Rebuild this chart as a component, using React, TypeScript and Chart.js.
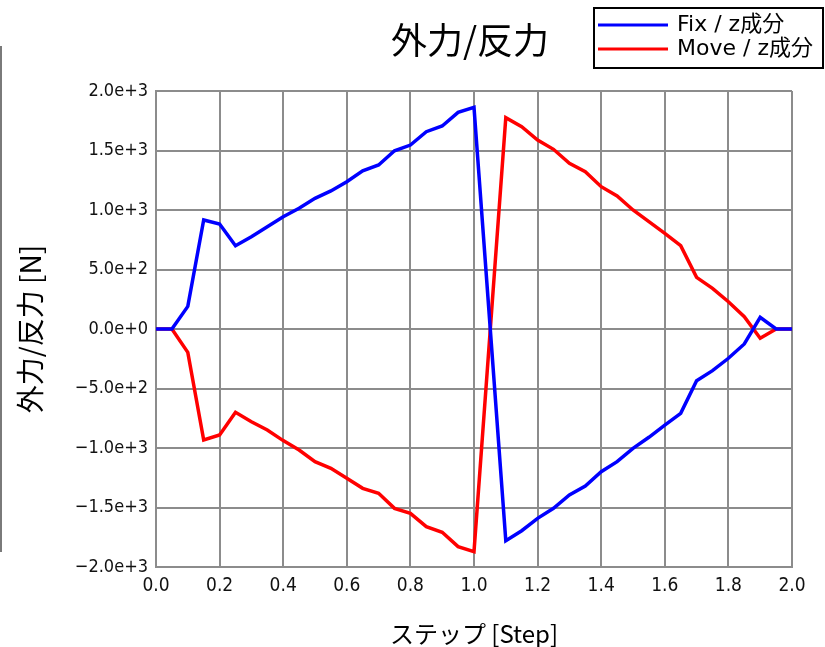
import React, { useEffect, useRef } from "react";
import { Chart, registerables } from "chart.js";

Chart.register(...registerables);

const steps = [
  0, 0.05, 0.1, 0.15, 0.2, 0.25, 0.3, 0.35, 0.4, 0.45, 0.5, 0.55, 0.6, 0.65, 0.7, 0.75, 0.8, 0.85, 0.9, 0.95,
  1.0, 1.05, 1.1, 1.15, 1.2, 1.25, 1.3, 1.35, 1.4, 1.45, 1.5, 1.55, 1.6, 1.65, 1.7, 1.75, 1.8, 1.85, 1.9, 1.95, 2.0,
];

const fixValues = [
  0, 0, 190, 916, 882, 700, 776, 860, 944, 1014, 1098, 1160, 1238, 1330, 1378, 1498, 1546, 1658, 1706, 1821,
  1863, 42, -1779, -1695, -1591, -1507, -1395, -1319, -1199, -1115, -1003, -910, -807, -709, -434, -350, -246, -126, 98, 0, 0,
];

const moveValues = [
  0, 0, -196, -933, -891, -700, -779, -849, -938, -1017, -1115, -1171, -1255, -1339, -1381, -1507, -1549, -1661, -1708, -1829,
  -1871, -47, 1776, 1700, 1588, 1510, 1392, 1322, 1196, 1118, 1000, 902, 804, 700, 434, 342, 229, 103, -78, 0, 0,
];

const seriesNames = ["Fix / z成分", "Move / z成分"];
const seriesColors = ["#0000ff", "#ff0000"];

const xTickLabels = ["0.0", "0.2", "0.4", "0.6", "0.8", "1.0", "1.2", "1.4", "1.6", "1.8", "2.0"];
const yTickLabels = [
  "−2.0e+3", "−1.5e+3", "−1.0e+3", "−5.0e+2", "0.0e+0", "5.0e+2", "1.0e+3", "1.5e+3", "2.0e+3",
];

const chartTitle = "外力/反力";
const xTitle = "ステップ [Step]";
const yTitle = "外力/反力 [N]";

const CJK = '"Noto Sans CJK JP", "Noto Sans", sans-serif';
const TICKFONT = '"DejaVu Sans Condensed", "DejaVu Sans", sans-serif';
const GRID = "#8c8c8c";

const overlayPlugin = {
  id: "overlay",
  afterDraw(chart: any) {
    const ctx = chart.ctx as CanvasRenderingContext2D;
    const area = chart.chartArea;
    ctx.save();
    // title
    ctx.fillStyle = "#000";
    ctx.font = `36px ${CJK}`;
    ctx.textAlign = "center";
    ctx.textBaseline = "middle";
    ctx.fillText(chartTitle, (area.left + area.right) / 2 - 4, 40);

    // legend box
    const bx = 594, by = 8, bw = 229, bh = 60;
    ctx.fillStyle = "#fff";
    ctx.fillRect(bx, by, bw, bh);
    ctx.strokeStyle = "#000";
    ctx.lineWidth = 2;
    ctx.strokeRect(bx, by, bw, bh);
    const rows = [25, 49];
    chart.data.datasets.forEach((ds: any, i: number) => {
      const y = rows[i];
      ctx.strokeStyle = ds.borderColor;
      ctx.lineWidth = 3;
      ctx.beginPath();
      ctx.moveTo(598, y);
      ctx.lineTo(668, y);
      ctx.stroke();
      ctx.fillStyle = "#000";
      ctx.font = `22px "DejaVu Sans", ${CJK}`;
      ctx.textAlign = "left";
      ctx.textBaseline = "middle";
      ctx.fillText(ds.label, 677, y);
    });
    ctx.restore();
  },
};

export default function App() {
  const ref = useRef<HTMLCanvasElement | null>(null);

  useEffect(() => {
    if (!ref.current) return;
    const chart = new Chart(ref.current, {
      type: "line",
      data: {
        datasets: [fixValues, moveValues].map((vals, i) => ({
          label: seriesNames[i],
          data: steps.map((s, j) => ({ x: s, y: vals[j] })),
          borderColor: seriesColors[i],
          backgroundColor: seriesColors[i],
          borderWidth: 3.5,
          pointRadius: 0,
          tension: 0,
          fill: false,
        })),
      },
      options: {
        responsive: false,
        animation: false,
        layout: { padding: { left: 0, top: 91, right: 33, bottom: 0 } },
        plugins: {
          legend: { display: false },
          title: { display: false },
          tooltip: { enabled: false },
        },
        scales: {
          x: {
            type: "linear",
            min: 0,
            max: 2,
            afterFit: (s: any) => {
              s.height = 80;
            },
            ticks: {
              stepSize: 0.2,
              autoSkip: false,
              maxRotation: 0,
              padding: 8,
              color: "#111",
              font: { family: TICKFONT, size: 19 },
              callback: (_v: any, i: number) => xTickLabels[i],
            },
            grid: { color: GRID, lineWidth: 2, drawTicks: false },
            border: { display: true, color: GRID, width: 2 },
            title: {
              display: true,
              text: xTitle,
              color: "#000",
              font: { family: CJK, size: 24, lineHeight: 1 },
              padding: { top: 0, bottom: 1 },
            },
          },
          y: {
            type: "linear",
            min: -2000,
            max: 2000,
            afterFit: (s: any) => {
              s.width = 156;
            },
            ticks: {
              stepSize: 500,
              autoSkip: false,
              padding: 8,
              color: "#111",
              font: { family: TICKFONT, size: 18 },
              callback: (_v: any, i: number) => yTickLabels[i],
            },
            grid: { color: GRID, lineWidth: 2, drawTicks: false },
            border: { display: true, color: GRID, width: 2 },
            title: {
              display: true,
              text: yTitle,
              color: "#000",
              font: { family: CJK, size: 28, lineHeight: 1.2 },
              padding: { top: 14, bottom: 0 },
            },
          },
        },
      },
      plugins: [overlayPlugin],
    });
    return () => chart.destroy();
  }, []);

  return (
    <div style={{ position: "absolute", left: 0, top: 0, width: 825, height: 647, background: "#fff" }}>
      <div style={{ position: "absolute", left: 0, top: 46, width: 2, height: 506, background: "#7a7a7a" }} />
      <canvas ref={ref} width={825} height={647} style={{ width: 825, height: 647, display: "block" }} />
    </div>
  );
}
